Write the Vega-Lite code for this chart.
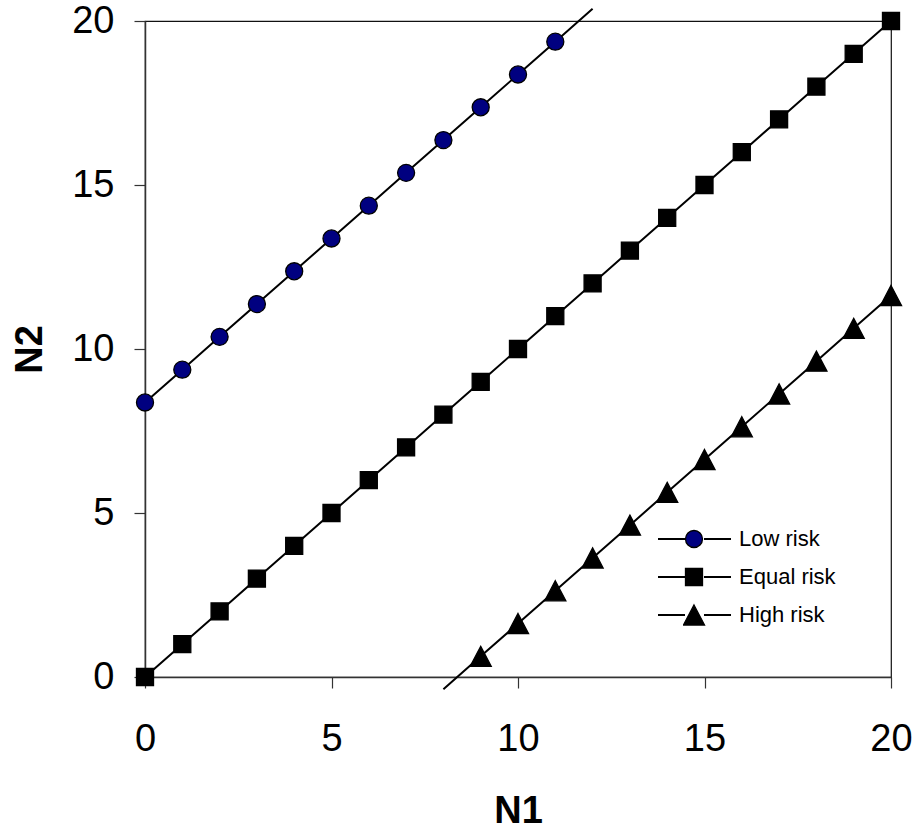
{
  "$schema": "https://vega.github.io/schema/vega-lite/v6.json",
  "width": 746,
  "height": 656,
  "autosize": {"type": "none"},
  "padding": {"left": 145, "top": 21, "right": 26, "bottom": 152},
  "background": "white",
  "config": {
    "font": "Liberation Sans",
    "view": {"stroke": "#111", "strokeWidth": 1.2},
    "axis": {
      "grid": false,
      "domainColor": "#333",
      "domainWidth": 1.5,
      "tickColor": "#333",
      "tickWidth": 1.2,
      "tickSize": 11,
      "labelFont": "Liberation Sans",
      "labelFontSize": 38,
      "labelColor": "#000",
      "titleFont": "Liberation Sans",
      "titleFontSize": 38,
      "titleFontWeight": "bold",
      "titleColor": "#000"
    },
    "legend": {
      "title": null,
      "orient": "none",
      "legendY": 506,
      "padding": 0,
      "labelFont": "Liberation Sans",
      "labelFontSize": 22,
      "labelColor": "#000",
      "clipHeight": 24,
      "rowPadding": 14
    }
  },
  "data": {
    "values": [
      {"series": "Low risk", "N1": 0, "N2": 8.37},
      {"series": "Low risk", "N1": 1, "N2": 9.37},
      {"series": "Low risk", "N1": 2, "N2": 10.37},
      {"series": "Low risk", "N1": 3, "N2": 11.37},
      {"series": "Low risk", "N1": 4, "N2": 12.37},
      {"series": "Low risk", "N1": 5, "N2": 13.37},
      {"series": "Low risk", "N1": 6, "N2": 14.37},
      {"series": "Low risk", "N1": 7, "N2": 15.37},
      {"series": "Low risk", "N1": 8, "N2": 16.37},
      {"series": "Low risk", "N1": 9, "N2": 17.37},
      {"series": "Low risk", "N1": 10, "N2": 18.37},
      {"series": "Low risk", "N1": 11, "N2": 19.37},
      {"series": "Low risk", "N1": 12, "N2": 20.37},
      {"series": "Equal risk", "N1": 0, "N2": 0},
      {"series": "Equal risk", "N1": 1, "N2": 1},
      {"series": "Equal risk", "N1": 2, "N2": 2},
      {"series": "Equal risk", "N1": 3, "N2": 3},
      {"series": "Equal risk", "N1": 4, "N2": 4},
      {"series": "Equal risk", "N1": 5, "N2": 5},
      {"series": "Equal risk", "N1": 6, "N2": 6},
      {"series": "Equal risk", "N1": 7, "N2": 7},
      {"series": "Equal risk", "N1": 8, "N2": 8},
      {"series": "Equal risk", "N1": 9, "N2": 9},
      {"series": "Equal risk", "N1": 10, "N2": 10},
      {"series": "Equal risk", "N1": 11, "N2": 11},
      {"series": "Equal risk", "N1": 12, "N2": 12},
      {"series": "Equal risk", "N1": 13, "N2": 13},
      {"series": "Equal risk", "N1": 14, "N2": 14},
      {"series": "Equal risk", "N1": 15, "N2": 15},
      {"series": "Equal risk", "N1": 16, "N2": 16},
      {"series": "Equal risk", "N1": 17, "N2": 17},
      {"series": "Equal risk", "N1": 18, "N2": 18},
      {"series": "Equal risk", "N1": 19, "N2": 19},
      {"series": "Equal risk", "N1": 20, "N2": 20},
      {"series": "High risk", "N1": 8, "N2": -0.37},
      {"series": "High risk", "N1": 9, "N2": 0.63},
      {"series": "High risk", "N1": 10, "N2": 1.63},
      {"series": "High risk", "N1": 11, "N2": 2.63},
      {"series": "High risk", "N1": 12, "N2": 3.63},
      {"series": "High risk", "N1": 13, "N2": 4.63},
      {"series": "High risk", "N1": 14, "N2": 5.63},
      {"series": "High risk", "N1": 15, "N2": 6.63},
      {"series": "High risk", "N1": 16, "N2": 7.63},
      {"series": "High risk", "N1": 17, "N2": 8.63},
      {"series": "High risk", "N1": 18, "N2": 9.63},
      {"series": "High risk", "N1": 19, "N2": 10.63},
      {"series": "High risk", "N1": 20, "N2": 11.63}
    ]
  },
  "encoding": {
    "x": {
      "field": "N1",
      "type": "quantitative",
      "scale": {"domain": [0, 20], "nice": false, "zero": false},
      "axis": {"title": "N1", "values": [0, 5, 10, 15, 20], "labelPadding": 32, "titlePadding": 34, "labelFlush": false}
    },
    "y": {
      "field": "N2",
      "type": "quantitative",
      "scale": {"domain": [0, 20], "nice": false, "zero": false},
      "axis": {"title": "N2", "values": [0, 5, 10, 15, 20], "labelPadding": 20, "titlePadding": 22, "labelFlush": false}
    }
  },
  "layer": [
    {
      "mark": {"type": "line", "strokeWidth": 2, "clip": false},
      "encoding": {
        "stroke": {
          "field": "series",
          "type": "nominal",
          "sort": ["Low risk", "Equal risk", "High risk"],
          "scale": {"range": ["#000000", "#000000", "#000000"]},
          "legend": {
            "legendX": 512,
            "symbolType": "M-1,0H-0.26M0.26,0H1",
            "symbolSize": 5329,
            "symbolStrokeWidth": 2,
            "symbolStrokeColor": "#000000",
            "symbolFillColor": "transparent",
            "labelExpr": "''"
          }
        }
      }
    },
    {
      "transform": [{"filter": "datum.N2 >= 0 && datum.N2 <= 20"}],
      "mark": {"type": "point", "filled": true, "stroke": "black", "strokeWidth": 1.3, "opacity": 1, "size": 290, "clip": false},
      "encoding": {
        "color": {
          "field": "series",
          "type": "nominal",
          "scale": {"domain": ["Low risk", "Equal risk", "High risk"], "range": ["#000080", "#000000", "#000000"]},
          "legend": {
            "legendX": 538,
            "symbolSize": 289,
            "symbolStrokeColor": "#000000",
            "symbolStrokeWidth": 1.3,
            "labelOffset": 34
          }
        },
        "shape": {
          "field": "series",
          "type": "nominal",
          "scale": {"domain": ["Low risk", "Equal risk", "High risk"], "range": ["circle", "square", "M0,-1.18L1.24,1.18H-1.24Z"]},
          "legend": {
            "legendX": 538,
            "symbolSize": 289,
            "symbolStrokeColor": "#000000",
            "symbolStrokeWidth": 1.3,
            "labelOffset": 34
          }
        }
      }
    }
  ]
}
